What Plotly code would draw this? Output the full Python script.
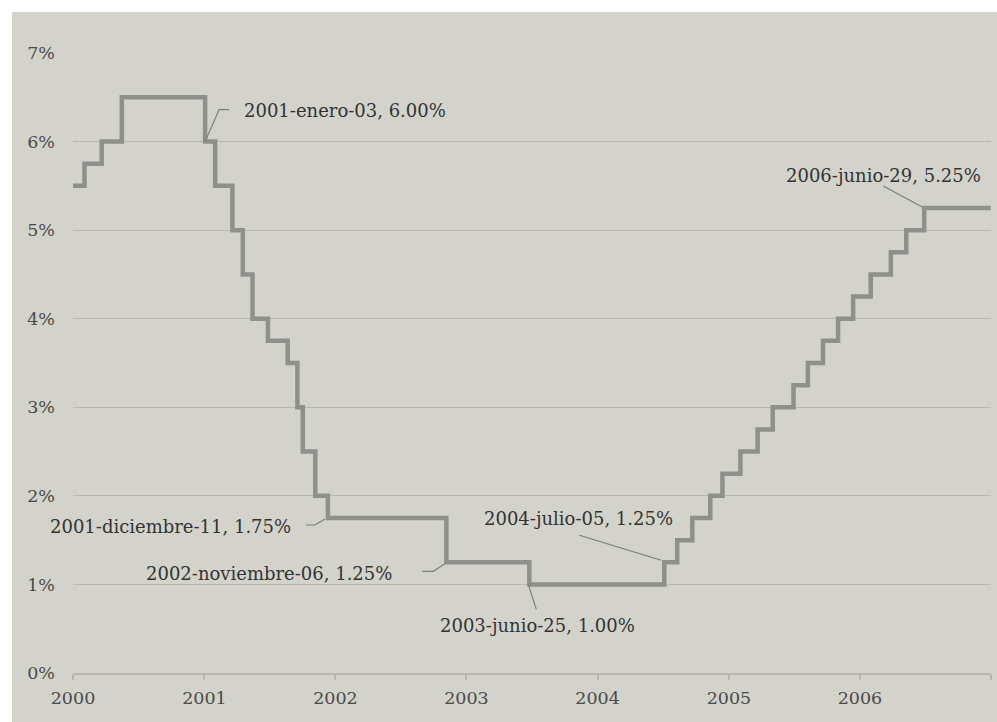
import plotly.graph_objects as go

# Federal funds target rate, change dates and new level (%)
fecha = [
    "2000-01-01", "2000-02-02", "2000-03-21", "2000-05-16",
    "2001-01-03", "2001-01-31", "2001-03-20", "2001-04-18", "2001-05-15",
    "2001-06-27", "2001-08-21", "2001-09-17", "2001-10-02", "2001-11-06",
    "2001-12-11", "2002-11-06", "2003-06-25", "2004-07-05", "2004-08-10",
    "2004-09-21", "2004-11-10", "2004-12-14", "2005-02-02", "2005-03-22",
    "2005-05-03", "2005-06-30", "2005-08-09", "2005-09-20", "2005-11-01",
    "2005-12-13", "2006-01-31", "2006-03-28", "2006-05-10", "2006-06-29",
    "2006-12-31",
]
tasa = [
    5.50, 5.75, 6.00, 6.50,
    6.00, 5.50, 5.00, 4.50, 4.00,
    3.75, 3.50, 3.00, 2.50, 2.00,
    1.75, 1.25, 1.00, 1.25, 1.50,
    1.75, 2.00, 2.25, 2.50, 2.75,
    3.00, 3.25, 3.50, 3.75, 4.00,
    4.25, 4.50, 4.75, 5.00, 5.25,
    5.25,
]

# Labelled changes
nota_fecha = ["2001-01-03", "2001-12-11", "2002-11-06", "2003-06-25", "2004-07-05", "2006-06-29"]
nota_tasa = [6.00, 1.75, 1.25, 1.00, 1.25, 5.25]
nota_texto = [
    "2001-enero-03, 6.00%",
    "2001-diciembre-11, 1.75%",
    "2002-noviembre-06, 1.25%",
    "2003-junio-25, 1.00%",
    "2004-julio-05, 1.25%",
    "2006-junio-29, 5.25%",
]

year_ticks = ["2000-01-01", "2001-01-01", "2002-01-01", "2003-01-01",
              "2004-01-01", "2005-01-01", "2006-01-01", "2007-01-01"]
year_labels = ["2000", "2001", "2002", "2003", "2004", "2005", "2006", ""]
pct_ticks = [0, 1, 2, 3, 4, 5, 6, 7]
pct_labels = ["0%", "1%", "2%", "3%", "4%", "5%", "6%", "7%"]

BG = "#d3d3cb"
GRID = "#b7b7af"
LINE = "#8f908b"
TEXT = "#333333"
FONT = "DejaVu Serif, Georgia, serif"

fig = go.Figure()
fig.add_trace(go.Scatter(
    x=fecha, y=tasa, mode="lines",
    line=dict(color=LINE, width=4.5, shape="hv"),
    hoverinfo="skip", showlegend=False,
))

# text placement (anchor, pixel shifts) and leader paths in pixels from the point
placement = [
    ("left", 37, 31, "M0,0 L14,32 L24,32"),
    ("right", -35, -8, "M-3,-1 L-13,-7 L-22,-7"),
    ("right", -52, -11, "M-1,-1 L-13,-9 L-24,-9"),
    ("center", 8, -41, "M-1,0 L7,-25"),
    ("center", -86, 44, "M-3,2 L-85,27"),
    ("center", -41, 33, "M-2,1 L-41,22"),
]

for fx, ty, txt, (anc, xs, ys, path) in zip(nota_fecha, nota_tasa, nota_texto, placement):
    fig.add_annotation(
        x=fx, y=ty, text=txt, showarrow=False,
        xanchor=anc, yanchor="middle", xshift=xs, yshift=ys,
        font=dict(family=FONT, size=18, color=TEXT),
    )
    fig.add_shape(
        type="path", xref="x", yref="y",
        xsizemode="pixel", ysizemode="pixel",
        xanchor=fx, yanchor=ty, path=path,
        line=dict(color="#7d7e79", width=1.2),
    )

# grey panel that leaves a thin white border on top and left
fig.add_shape(
    type="rect", xref="paper", yref="paper",
    x0=-0.0665, x1=1.1, y0=-0.12, y1=1.066,
    fillcolor=BG, line=dict(width=0), layer="below",
)

fig.update_xaxes(
    type="date", range=["2000-01-01", "2007-01-01"],
    tickvals=year_ticks, ticktext=year_labels,
    showgrid=False, showline=True, linecolor=GRID, linewidth=1.5,
    ticks="outside", ticklen=5, tickcolor=GRID, tickwidth=1.5,
    ticklabelstandoff=3,
    tickfont=dict(family=FONT, size=17.5, color="#4a4a4a"),
    zeroline=False,
)
fig.update_yaxes(
    range=[0, 7], tickvals=pct_ticks, ticktext=pct_labels,
    showgrid=True, gridcolor=GRID, gridwidth=1,
    showline=False, zeroline=False, ticks="",
    ticklabelstandoff=17,
    tickfont=dict(family=FONT, size=17.5, color="#4a4a4a"),
)

fig.update_layout(
    width=997, height=722,
    margin=dict(l=73, r=6, t=53, b=49),
    paper_bgcolor="white", plot_bgcolor=BG,
    hovermode=False, showlegend=False,
)

fig.write_html("out.html")
